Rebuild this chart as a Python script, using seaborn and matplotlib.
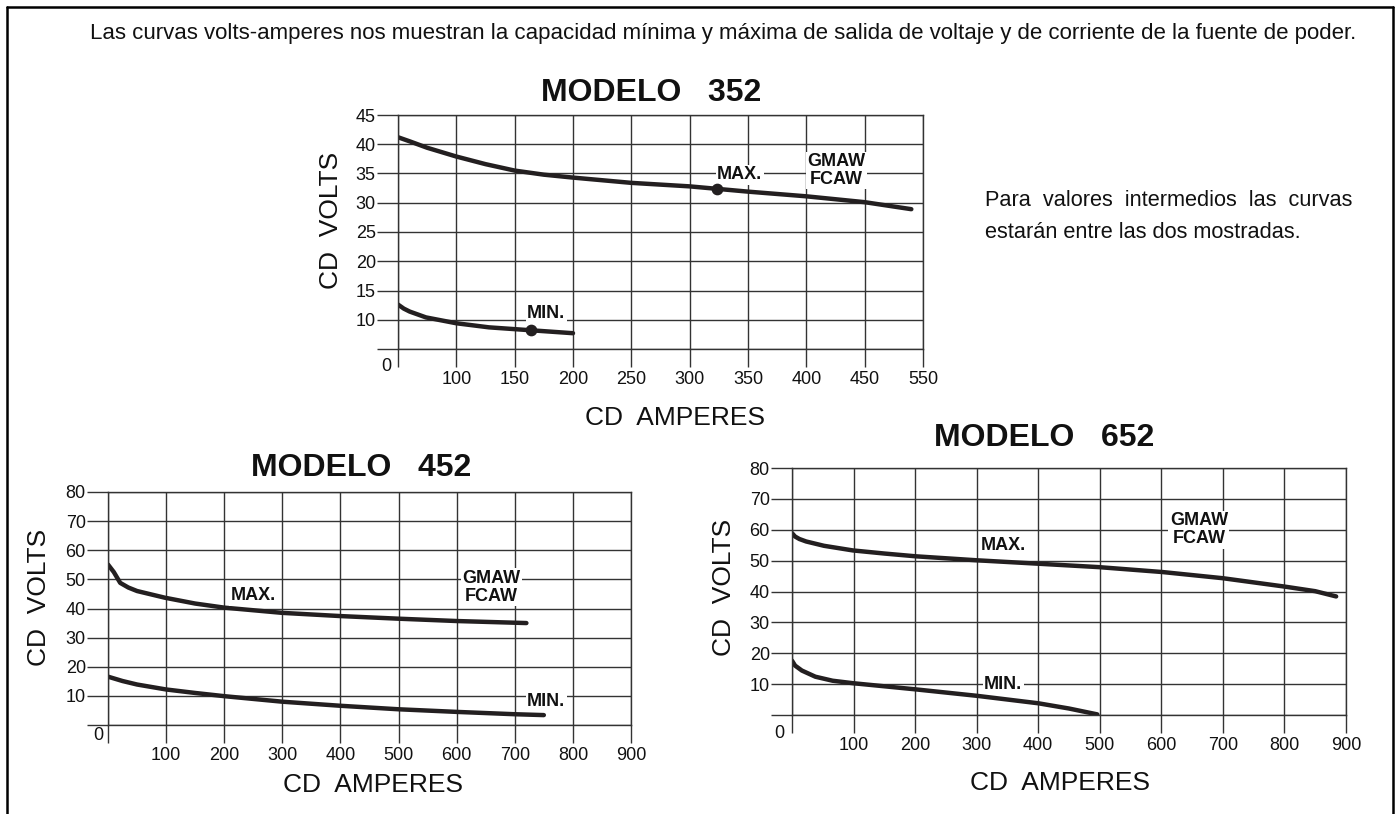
import matplotlib
matplotlib.use('Agg')
import matplotlib.pyplot as plt
import seaborn as sns
import pandas as pd
from matplotlib.lines import Line2D

# MODELO 352
m352_max_amps = [50, 60, 75, 100, 125, 150, 175, 200, 250, 300, 350, 400, 450, 490]
m352_max_volts = [41.2, 40.5, 39.4, 37.9, 36.6, 35.5, 34.8, 34.3, 33.4, 32.8, 31.9, 31.1, 30.1, 28.9]
m352_min_amps = [50, 55, 60, 74, 100, 128, 164, 200]
m352_min_volts = [12.6, 11.9, 11.4, 10.4, 9.4, 8.7, 8.2, 7.7]
m352_dot_amps = [323, 164]
m352_dot_volts = [32.4, 8.2]

# MODELO 452
m452_max_amps = [0, 10, 21, 35, 50, 75, 98, 150, 200, 300, 400, 500, 600, 720]
m452_max_volts = [55.1, 52.5, 48.8, 47.2, 46.0, 44.8, 43.7, 41.7, 40.3, 38.5, 37.4, 36.5, 35.7, 35.0]
m452_min_amps = [0, 25, 50, 100, 150, 200, 300, 400, 500, 600, 700, 750]
m452_min_volts = [16.6, 15.1, 13.9, 12.2, 11.0, 9.9, 8.0, 6.6, 5.4, 4.5, 3.7, 3.4]

# MODELO 652
m652_max_amps = [0, 5, 12, 23, 52, 99, 150, 201, 301, 400, 498, 602, 700, 800, 850, 884]
m652_max_volts = [58.9, 57.8, 57.0, 56.2, 54.8, 53.3, 52.3, 51.4, 50.1, 49.0, 47.9, 46.3, 44.3, 41.6, 40.1, 38.4]
m652_min_amps = [0, 5, 16, 38, 66, 99, 150, 201, 301, 400, 450, 496]
m652_min_volts = [17.6, 16.0, 14.4, 12.4, 11.1, 10.3, 9.3, 8.3, 6.2, 3.8, 2.1, 0.2]

# tick labels
x352_ticks = [50, 100, 150, 200, 250, 300, 350, 400, 450, 500]
x352_labels = ['', '100', '150', '200', '250', '300', '350', '400', '450', '550']
y352_ticks = [5, 10, 15, 20, 25, 30, 35, 40, 45]
y352_labels = ['', '10', '15', '20', '25', '30', '35', '40', '45']
x_big_ticks = [0, 100, 200, 300, 400, 500, 600, 700, 800, 900]
x_big_labels = ['', '100', '200', '300', '400', '500', '600', '700', '800', '900']
y_big_ticks = [0, 10, 20, 30, 40, 50, 60, 70, 80]
y_big_labels = ['', '10', '20', '30', '40', '50', '60', '70', '80']

GRID = '#333333'
CURVE = '#231f20'
INK = '#111111'

sns.set_theme(style='white')
plt.rcParams['font.family'] = ['Liberation Sans', 'DejaVu Sans']

W, H = 1396, 814
fig = plt.figure(figsize=(W / 100, H / 100), dpi=100)


def px_axes(left, top, right, bottom):
    return fig.add_axes([left / W, 1 - bottom / H, (right - left) / W, (bottom - top) / H])


def curve(ax, amps, volts):
    df = pd.DataFrame({'amps': amps, 'volts': volts})
    sns.lineplot(data=df, x='amps', y='volts', ax=ax, color=CURVE, linewidth=3.2,
                 estimator=None, sort=False, legend=False)


def setup(ax, xlim, ylim, xt, xl, yt, yl, zero_pos, vlab_pos, alab_pos):
    ax.set_xlim(xlim)
    ax.set_ylim(ylim)
    ax.set_xticks(xt)
    ax.set_xticklabels(xl)
    ax.set_yticks(yt)
    ax.set_yticklabels(yl)
    ax.grid(True, color=GRID, linewidth=1.0)
    for s in ax.spines.values():
        s.set_visible(True)
        s.set_color(GRID)
        s.set_linewidth(1.0)
    ax.tick_params(axis='x', bottom=True, length=13, width=1.0, color=GRID, pad=3,
                   labelsize=13, labelcolor=INK)
    ax.tick_params(axis='y', left=True, length=15, width=1.0, color=GRID, pad=1,
                   labelsize=13, labelcolor=INK)
    ax.text(zero_pos[0], zero_pos[1], '0', transform=ax.transAxes, fontsize=13,
            ha='center', va='center', color=INK)
    ax.set_ylabel('CD  VOLTS', fontsize=19, color=INK)
    ax.yaxis.set_label_coords(*vlab_pos)
    ax.set_xlabel('CD  AMPERES', fontsize=19, color=INK)
    ax.xaxis.set_label_coords(*alab_pos)
    ax.xaxis.label.set_va('center')
    ax.yaxis.label.set_va('center')


def tag(ax, x, y, s):
    ax.text(x, y, s, fontsize=13, fontweight='bold', ha='center', va='center',
            color=INK, linespacing=1.05,
            bbox=dict(facecolor='white', edgecolor='none', pad=1.0))


# top chart: MODELO 352
ax1 = px_axes(398, 115, 923, 349)
setup(ax1, (50, 500), (5, 45), x352_ticks, x352_labels, y352_ticks, y352_labels,
      (-0.023, -0.073), (-0.128, 0.551), (0.528, -0.295))
curve(ax1, m352_max_amps, m352_max_volts)
curve(ax1, m352_min_amps, m352_min_volts)
ax1.scatter(m352_dot_amps, m352_dot_volts, s=55, color=CURVE, zorder=5)
tag(ax1, 343, 34.8, 'MAX.')
tag(ax1, 426, 35.5, 'GMAW\nFCAW')
tag(ax1, 177, 11.0, 'MIN.')

# bottom left: MODELO 452
ax2 = px_axes(108, 492, 631, 725)
setup(ax2, (0, 900), (0, 80), x_big_ticks, x_big_labels, y_big_ticks, y_big_labels,
      (-0.019, -0.043), (-0.132, 0.549), (0.507, -0.258))
curve(ax2, m452_max_amps, m452_max_volts)
curve(ax2, m452_min_amps, m452_min_volts)
tag(ax2, 250, 44.3, 'MAX.')
tag(ax2, 660, 47.3, 'GMAW\nFCAW')
tag(ax2, 754, 8.0, 'MIN.')

# bottom right: MODELO 652
ax3 = px_axes(792, 468, 1346, 715)
setup(ax3, (0, 900), (0, 80), x_big_ticks, x_big_labels, y_big_ticks, y_big_labels,
      (-0.023, -0.073), (-0.123, 0.518), (0.484, -0.275))
curve(ax3, m652_max_amps, m652_max_volts)
curve(ax3, m652_min_amps, m652_min_volts)
tag(ax3, 343, 54.8, 'MAX.')
tag(ax3, 661, 60.0, 'GMAW\nFCAW')
tag(ax3, 343, 9.9, 'MIN.')

# titles
for cx, cy, s in [(651, 93, 'MODELO   352'), (361, 468, 'MODELO   452'), (1044, 438, 'MODELO   652')]:
    fig.text(cx / W, 1 - cy / H, s, fontsize=23, fontweight='bold', ha='center',
             va='center', color=INK)

fig.text(723 / W, 1 - 34 / H,
         'Las curvas volts-amperes nos muestran la capacidad mínima y máxima de salida '
         'de voltaje y de corriente de la fuente de poder.',
         fontsize=16, ha='center', va='center', color=INK)
fig.text(985 / W, 1 - 200 / H, 'Para  valores  intermedios  las  curvas',
         fontsize=15.7, ha='left', va='center', color=INK)
fig.text(985 / W, 1 - 232 / H, 'estarán entre las dos mostradas.',
         fontsize=15.7, ha='left', va='center', color=INK)

# page frame
fig.add_artist(Line2D([7 / W, 7 / W], [0, 1 - 7 / H], color='black', linewidth=1.8))
fig.add_artist(Line2D([7 / W, 1393 / W], [1 - 7 / H, 1 - 7 / H], color='black', linewidth=1.8))
fig.add_artist(Line2D([1393 / W, 1393 / W], [0, 1 - 7 / H], color='black', linewidth=1.8))

fig.savefig('out.png', dpi=100, facecolor='white')
